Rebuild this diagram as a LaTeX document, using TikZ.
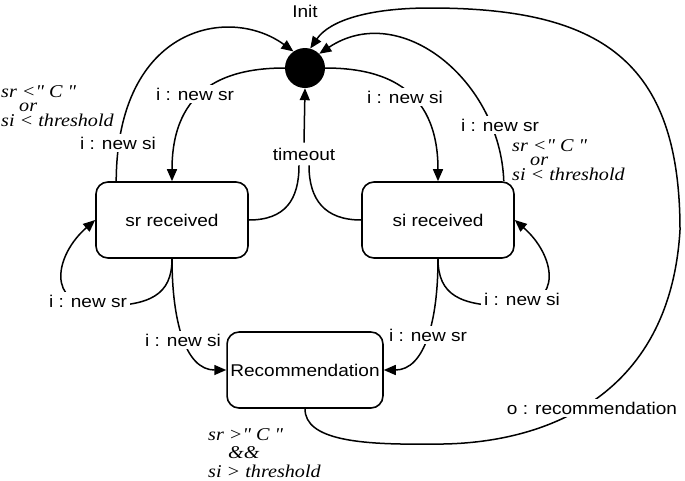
\documentclass[tikz,border=0pt]{standalone}
\usepackage{fontspec}
\setmainfont{Liberation Sans}[FakeStretch=1.12]
\newfontfamily\condfont{Liberation Serif}[FakeStretch=1.12]
\usetikzlibrary{arrows.meta, backgrounds}

\tikzset{
    state/.style={draw, rounded corners=12pt, line width=1.6pt, minimum width=152pt, minimum height=76pt},
    initst/.style={circle, fill=black, minimum size=40pt, inner sep=0pt},
    lbl/.style={fill=white, inner sep=3pt},
    cond/.style={align=left, inner sep=0pt, font=\condfont\itshape\fontsize{18}{14.5}\selectfont},
    trans/.style={line width=1.5pt},
    arr/.style={trans, -{Triangle[length=12pt, width=10pt]}}
}

\begin{document}
\begin{tikzpicture}[x=1pt, y=-1pt, font=\fontsize{17}{20}\selectfont]
    \useasboundingbox (0,0) rectangle (685,480);
    % states
    \node[initst] (init) at (305,68) {};
    \node (initlbl) at (305,11) {Init};
    \node[state] (sr) at (172,220) {sr received};
    \node[state] (si) at (438,220) {si received};
    \node[state] (rec) at (305,370) {Recommendation};

    % transition labels
    \node[lbl] (l1) at (195,94) {i : new sr};
    \node[lbl] (l2) at (118,143) {i : new si};
    \node[lbl, inner sep=5pt] (tmo) at (304,154) {timeout};
    \node[lbl] (l3) at (405,97) {i : new si};
    \node[lbl] (l4) at (500,125) {i : new sr};
    \node[lbl] (l5) at (88,301) {i : new sr};
    \node[lbl] (l6) at (183,340) {i : new si};
    \node[lbl] (l7) at (428,335) {i : new sr};
    \node[lbl] (l8) at (522,299) {i : new si};
    \node[lbl] (l9) at (592,408) {o : recommendation};

    % guards
    \node[cond, anchor=west] (c1) at (1,106) {sr <" C "\\\hspace*{18pt}or\\si < threshold};
    \node[cond, anchor=west] (c2) at (512,160) {sr <" C "\\\hspace*{18pt}or\\si < threshold};
    \node[cond, anchor=west, font=\condfont\itshape\fontsize{18}{18.5}\selectfont] (c3) at (208,453)
        {sr >" C "\\\hspace*{20pt}\&\&\\si > threshold};

    \begin{scope}[on background layer]
        \draw[arr] (init.180) .. controls (230,68) and (172,85) .. (sr.north);
        \draw[arr] ([xshift=21pt]sr.north west) .. controls (117,25) and (230,5) .. (init.125);
        \draw[arr] (init.0) .. controls (380,68) and (438,85) .. (si.north);
        \draw[arr] ([xshift=-11pt]si.north east) .. controls (500,80) and (400,0) .. (init.45);
        \draw[trans] (sr.east) .. controls (285,220) and (299,200) .. ([xshift=-5pt]tmo.south);
        \draw[trans] (si.west) .. controls (325,220) and (309,200) .. ([xshift=5pt]tmo.south);
        \draw[arr] (tmo.north) -- (init.south);
        % self loops
        \draw[arr] (sr.south) .. controls (172,295) and (150,306) .. (100,306)
            .. controls (45,306) and (55,255) .. (sr.west);
        \draw[arr] (si.south) .. controls (438,295) and (460,306) .. (510,306)
            .. controls (565,306) and (555,255) .. (si.east);
        % to recommendation
        \draw[arr] (sr.south) .. controls (172,320) and (185,370) .. (rec.west);
        \draw[arr] (si.south) .. controls (438,320) and (425,370) .. (rec.east);
        % output
        \draw[arr] (rec.south) .. controls (305,440) and (360,445) .. (430,444)
            .. controls (540,446) and (670,400) .. (680,230)
            .. controls (680,60) and (600,8) .. (430,8)
            .. controls (370,8) and (330,20) .. (init.75);
    \end{scope}
\end{tikzpicture}
\end{document}
